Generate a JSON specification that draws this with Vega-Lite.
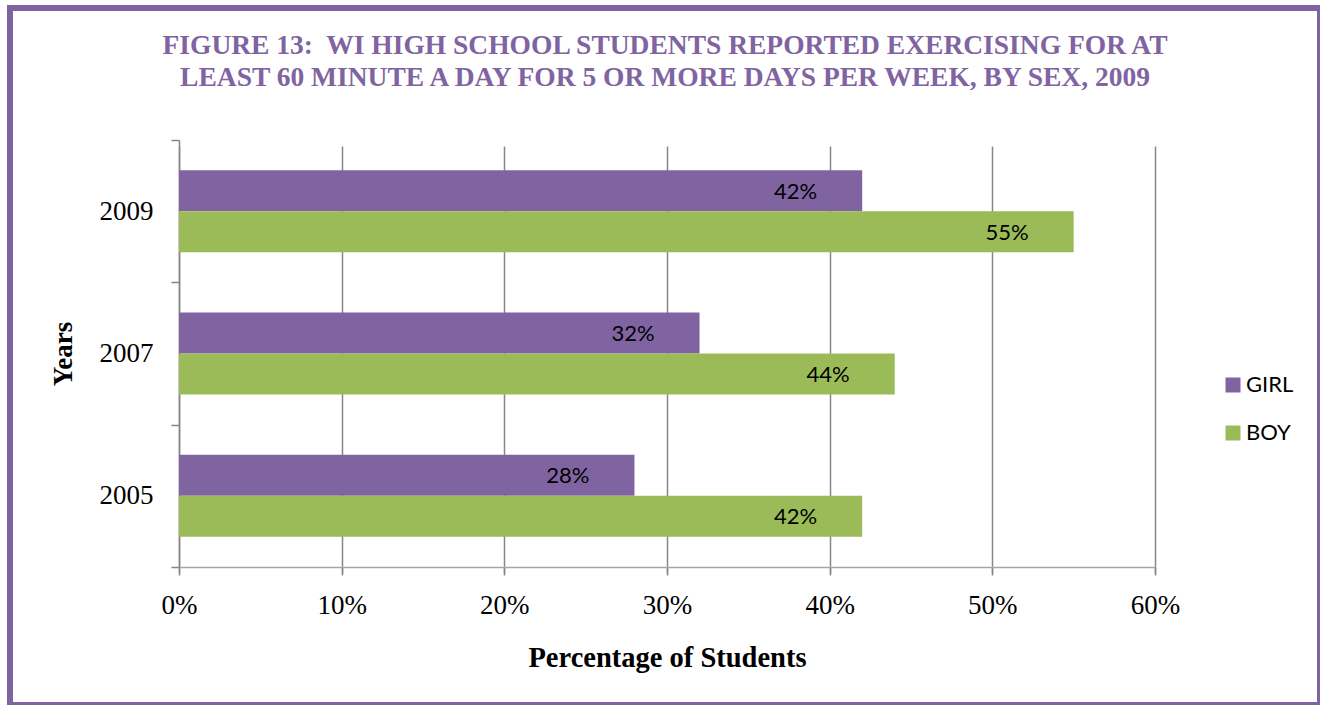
{
  "$schema": "https://vega.github.io/schema/vega-lite/v6.json",
  "autosize": "none",
  "padding": {"left": 10, "top": 8, "right": 0, "bottom": 0},
  "width": 1310,
  "height": 697,
  "background": "white",
  "config": {"view": {"stroke": "#8064A2", "strokeWidth": 6, "fill": "white"}},
  "title": {
    "text": ["FIGURE 13:\u00a0 WI HIGH SCHOOL STUDENTS REPORTED EXERCISING FOR AT", "LEAST 60 MINUTE A DAY FOR 5 OR MORE DAYS PER WEEK, BY SEX, 2009"],
    "font": "Liberation Serif",
    "fontSize": 27.5,
    "fontWeight": "bold",
    "color": "#8064A2",
    "anchor": "middle",
    "frame": "group",
    "orient": "top",
    "baseline": "bottom",
    "offset": -125,
    "lineHeight": 32
  },
  "data": {
    "values": [
      {"year": "2009", "sex": "GIRL", "pct": 0.42},
      {"year": "2009", "sex": "BOY", "pct": 0.55},
      {"year": "2007", "sex": "GIRL", "pct": 0.32},
      {"year": "2007", "sex": "BOY", "pct": 0.44},
      {"year": "2005", "sex": "GIRL", "pct": 0.28},
      {"year": "2005", "sex": "BOY", "pct": 0.42}
    ]
  },
  "encoding": {
    "y": {
      "field": "year",
      "type": "nominal",
      "scale": {"domain": ["2009", "2007", "2005"], "range": [132, 559], "paddingInner": 0, "paddingOuter": 0},
      "axis": {
        "title": "Years",
        "orient": "left",
        "offset": -169,
        "tickBand": "extent",
        "domain": true,
        "domainColor": "#878787",
        "domainWidth": 1.5,
        "ticks": true,
        "tickColor": "#878787",
        "tickSize": 8,
        "tickWidth": 1.5,
        "grid": false,
        "labelFont": "Liberation Serif",
        "labelFontSize": 27,
        "labelColor": "black",
        "labelPadding": 18,
        "titleFont": "Liberation Serif",
        "titleFontSize": 27,
        "titleFontWeight": "bold",
        "titleColor": "black",
        "titleX": -116,
        "titleBaseline": "middle"
      }
    },
    "yOffset": {
      "field": "sex",
      "type": "nominal",
      "scale": {"domain": ["GIRL", "BOY"], "paddingInner": 0, "paddingOuter": 0.736}
    },
    "x": {
      "field": "pct",
      "type": "quantitative",
      "scale": {"domain": [0, 0.6], "range": [169, 1145], "nice": false, "zero": true},
      "axis": {
        "title": "Percentage of Students",
        "orient": "bottom",
        "offset": -138,
        "values": [0, 0.1, 0.2, 0.3, 0.4, 0.5, 0.6],
        "format": ".0%",
        "domain": true,
        "domainColor": "#a6a6a6",
        "domainWidth": 1.5,
        "ticks": true,
        "tickColor": "#878787",
        "tickSize": 8,
        "tickWidth": 1.5,
        "grid": true,
        "gridColor": "#878787",
        "gridWidth": 1.5,
        "labelFont": "Liberation Serif",
        "labelFontSize": 27,
        "labelColor": "black",
        "labelPadding": 17,
        "labelFlush": false,
        "labelOverlap": false,
        "titleFont": "Liberation Serif",
        "titleFontSize": 28.5,
        "titleFontWeight": "bold",
        "titleColor": "black",
        "titlePadding": 25
      }
    }
  },
  "layer": [
    {
      "mark": {"type": "bar"},
      "encoding": {
        "color": {
          "field": "sex",
          "type": "nominal",
          "scale": {"domain": ["GIRL", "BOY"], "range": ["#8064A2", "#9BBB59"]},
          "legend": {
            "title": null,
            "orient": "none",
            "legendX": 1212,
            "legendY": 366,
            "symbolType": "square",
            "symbolSize": 225,
            "symbolStrokeWidth": 0,
            "labelFont": "Lato",
            "labelFontSize": 22,
            "labelColor": "black",
            "labelOffset": 2,
            "rowPadding": 26,
            "padding": 0
          }
        }
      }
    },
    {
      "mark": {"type": "text", "align": "right", "dx": -45, "dy": 1, "baseline": "middle", "font": "Lato", "fontSize": 22, "color": "black"},
      "encoding": {"text": {"field": "pct", "type": "quantitative", "format": ".0%"}}
    }
  ]
}
